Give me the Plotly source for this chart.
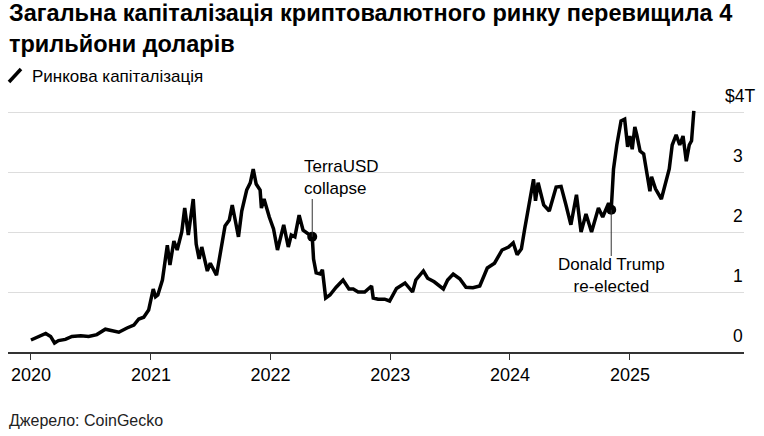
import plotly.graph_objects as go

# Total crypto market cap, trillions of USD
dates = [
    "2020-01-01", "2020-01-20", "2020-02-15", "2020-03-01", "2020-03-13", "2020-03-25",
    "2020-04-15", "2020-05-05", "2020-06-01", "2020-06-25", "2020-07-20", "2020-08-15",
    "2020-09-05", "2020-09-25", "2020-10-20", "2020-11-10", "2020-11-25", "2020-12-10",
    "2020-12-25", "2021-01-08", "2021-01-15", "2021-01-22", "2021-02-05", "2021-02-20",
    "2021-02-28", "2021-03-12", "2021-03-22", "2021-04-05", "2021-04-14", "2021-04-25",
    "2021-05-10", "2021-05-19", "2021-05-28", "2021-06-05", "2021-06-22", "2021-07-01",
    "2021-07-20", "2021-07-30", "2021-08-15", "2021-08-28", "2021-09-06", "2021-09-15",
    "2021-09-25", "2021-10-05", "2021-10-20", "2021-10-31", "2021-11-09", "2021-11-18",
    "2021-11-30", "2021-12-04", "2021-12-12", "2021-12-28", "2022-01-10", "2022-01-22",
    "2022-02-10", "2022-02-24", "2022-03-05", "2022-03-16", "2022-03-29", "2022-04-10",
    "2022-04-22", "2022-05-08", "2022-05-12", "2022-05-20", "2022-06-01", "2022-06-08",
    "2022-06-18", "2022-07-01", "2022-07-20", "2022-08-10", "2022-08-28", "2022-09-10",
    "2022-09-25", "2022-10-15", "2022-11-05", "2022-11-10", "2022-11-25", "2022-12-15",
    "2022-12-30", "2023-01-20", "2023-02-15", "2023-03-10", "2023-03-20", "2023-04-12",
    "2023-04-25", "2023-05-15", "2023-06-12", "2023-06-25", "2023-07-12", "2023-08-01",
    "2023-08-20", "2023-09-10", "2023-10-01", "2023-10-24", "2023-11-15", "2023-12-08",
    "2023-12-28", "2024-01-11", "2024-01-23", "2024-02-05", "2024-02-15", "2024-02-29",
    "2024-03-13", "2024-03-19", "2024-03-27", "2024-04-13", "2024-04-30", "2024-05-21",
    "2024-06-05", "2024-06-20", "2024-07-05", "2024-07-22", "2024-08-05", "2024-08-20",
    "2024-09-06", "2024-09-27", "2024-10-10", "2024-10-28", "2024-11-05", "2024-11-12",
    "2024-11-22", "2024-12-05", "2024-12-16", "2024-12-25", "2025-01-01", "2025-01-08",
    "2025-01-16", "2025-01-22", "2025-02-01", "2025-02-12", "2025-02-25", "2025-03-03",
    "2025-03-08", "2025-03-20", "2025-04-07", "2025-04-20", "2025-05-01", "2025-05-10",
    "2025-05-22", "2025-06-02", "2025-06-12", "2025-06-22", "2025-07-01", "2025-07-08",
    "2025-07-12", "2025-07-15",
]
market_cap = [
    0.20, 0.24, 0.31, 0.26, 0.15, 0.19,
    0.21, 0.26, 0.27, 0.26, 0.29, 0.38,
    0.36, 0.33, 0.40, 0.45, 0.55, 0.58,
    0.70, 1.05, 0.92, 0.95, 1.20, 1.78,
    1.45, 1.85, 1.70, 2.00, 2.40, 1.95,
    2.55, 1.80, 1.55, 1.75, 1.35, 1.48,
    1.28, 1.60, 2.10, 2.20, 2.45, 2.20,
    1.92, 2.35, 2.70, 2.82, 3.05, 2.80,
    2.70, 2.40, 2.55, 2.25, 2.05, 1.70,
    2.12, 1.75, 1.95, 1.92, 2.28, 2.03,
    1.98, 1.92, 1.55, 1.32, 1.30, 1.37,
    0.90, 0.95, 1.08, 1.20, 1.05, 1.05,
    1.00, 1.00, 1.10, 0.90, 0.88, 0.88,
    0.85, 1.06, 1.15, 1.00, 1.20, 1.35,
    1.23, 1.17, 1.05, 1.20, 1.30, 1.22,
    1.08, 1.07, 1.10, 1.40, 1.48, 1.70,
    1.75, 1.82, 1.62, 1.72, 2.05, 2.50,
    2.88, 2.52, 2.82, 2.45, 2.35, 2.75,
    2.76, 2.45, 2.12, 2.62, 2.00, 2.30,
    2.00, 2.40, 2.25, 2.48, 2.37, 3.05,
    3.45, 3.85, 3.88, 3.42, 3.60, 3.38,
    3.75, 3.62, 3.35, 3.30, 2.92, 2.68,
    2.92, 2.72, 2.55, 2.80, 3.05, 3.45,
    3.62, 3.45, 3.60, 3.18, 3.45, 3.52,
    3.75, 4.02,
]

# Annotated events
event_dates = ["2022-05-08", "2024-11-05"]
event_values = [1.92, 2.37]
event_labels = ["TerraUSD<br>collapse", "Donald Trump<br>re-elected"]

year_ticks = ["2020-01-01", "2021-01-01", "2022-01-01", "2023-01-01", "2024-01-01", "2025-01-01"]
year_labels = ["2020", "2021", "2022", "2023", "2024", "2025"]
y_ticks = [0, 1, 2, 3, 4]
y_tick_labels = ["0", "1", "2", "3", "$4T"]

FONT = "Liberation Sans, Arial, Helvetica, sans-serif"


# plot area in pixels: x 8..744, y 88..352
def px(x):
    return (x - 8) / 736


def py(y):
    return (352 - y) / 264


fig = go.Figure()

fig.add_trace(go.Scatter(
    x=dates, y=market_cap,
    mode="lines",
    line=dict(color="#000000", width=3.5),
    showlegend=False,
    hoverinfo="skip",
))

fig.add_trace(go.Scatter(
    x=event_dates, y=event_values,
    mode="markers",
    marker=dict(color="#000000", size=10),
    showlegend=False,
    hoverinfo="skip",
))

# Leader lines for the two events
fig.add_shape(type="line", xref="x", yref="y",
              x0=event_dates[0], x1=event_dates[0], y0=event_values[0], y1=2.55,
              line=dict(color="#333333", width=1))
fig.add_shape(type="line", xref="x", yref="y",
              x0=event_dates[1], x1=event_dates[1], y0=event_values[1], y1=1.6,
              line=dict(color="#333333", width=1))

fig.add_annotation(x=event_dates[0], y=2.55, xref="x", yref="y",
                   text=event_labels[0], showarrow=False, align="left",
                   xanchor="left", yanchor="bottom", xshift=-10, yshift=-1,
                   font=dict(size=17, color="#000000", family=FONT))
fig.add_annotation(x=event_dates[1], y=1.6, xref="x", yref="y",
                   text=event_labels[1], showarrow=False, align="center",
                   xanchor="center", yanchor="top", yshift=3,
                   font=dict(size=17, color="#000000", family=FONT))

# Right-hand value labels sitting above the gridlines
for v, lab in zip(y_ticks, y_tick_labels):
    fig.add_annotation(x=1, y=v, xref="paper", yref="y", text=lab,
                       showarrow=False, xanchor="right", yanchor="bottom",
                       xshift=13 if lab.startswith("$") else 1, yshift=4,
                       font=dict(size=17.5, color="#000000", family=FONT))

# Title, legend and source
fig.add_annotation(x=px(7), y=py(-2), xref="paper", yref="paper",
                   text="<b>Загальна капіталізація криптовалютного ринку перевищила 4<br>трильйони доларів</b>",
                   showarrow=False, xanchor="left", yanchor="top", align="left",
                   font=dict(size=23.5, color="#000000", family=FONT))
fig.add_shape(type="line", xref="paper", yref="paper",
              x0=px(9), y0=py(82), x1=px(21), y1=py(69),
              line=dict(color="#000000", width=3.5))
fig.add_annotation(x=px(30), y=py(76), xref="paper", yref="paper",
                   text="Ринкова капіталізація", showarrow=False,
                   xanchor="left", yanchor="middle",
                   font=dict(size=17, color="#000000", family=FONT))
fig.add_annotation(x=px(7), y=py(421), xref="paper", yref="paper",
                   text="Джерело: CoinGecko", showarrow=False,
                   xanchor="left", yanchor="middle",
                   font=dict(size=16, color="#222222", family=FONT))

fig.update_layout(
    width=764, height=436,
    margin=dict(l=8, r=20, t=88, b=84),
    paper_bgcolor="white", plot_bgcolor="white",
    font=dict(family=FONT, color="#000000"),
    showlegend=False,
)
fig.update_xaxes(
    type="date",
    range=["2019-10-23", "2025-12-15"],
    tickvals=year_ticks, ticktext=year_labels,
    ticks="outside", ticklen=6, tickcolor="#333333", tickwidth=1,
    showline=True, linecolor="#333333", linewidth=1.5,
    showgrid=False, zeroline=False,
    tickfont=dict(size=18, color="#000000", family=FONT),
)
fig.update_yaxes(
    range=[0, 4.4],
    tickvals=y_ticks, showticklabels=False,
    showgrid=True, gridcolor="#dddddd", gridwidth=1,
    zeroline=False, fixedrange=True,
)

fig.write_html("out.html", config={"displayModeBar": False},
               post_script="document.body.style.margin='0';")
